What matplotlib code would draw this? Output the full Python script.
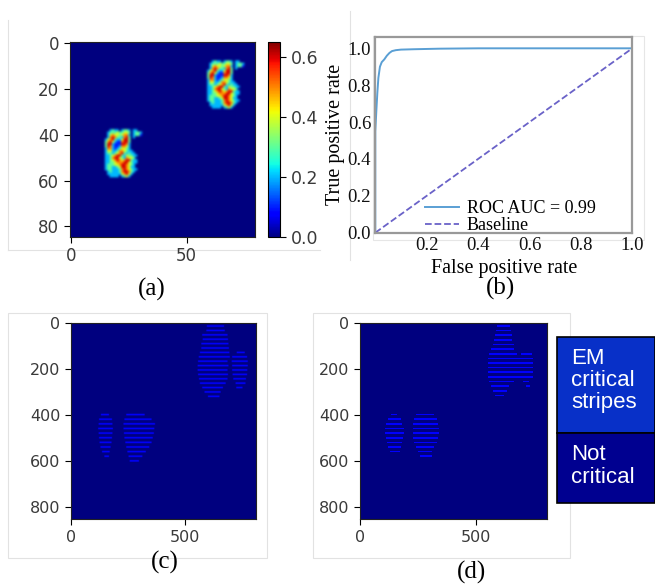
import numpy as np
import matplotlib
matplotlib.use("Agg")
import matplotlib.pyplot as plt
from matplotlib.patches import Rectangle
from matplotlib.lines import Line2D

# ---- datos ----
# (a) mapa de calor 85x80 con dos copias del mismo patron (valores /10)
HEAT_SHAPE = (85, 80)
BLOB_ROWS = [
    "...2322.2332.22..",
    "..2333433443.2332",
    "..2454434552.2331",
    "..2565332563.2...",
    ".24563224663.....",
    ".35642115663.....",
    ".36621116652.....",
    ".36521125542.....",
    ".25521234432.....",
    ".244223554322....",
    ".2332345632322...",
    ".22345663243322..",
    ".2235664325443...",
    ".22345654566322..",
    ".22334555664322..",
    ".2333445665432...",
    ".2332234665422...",
    ".23322235654322..",
    "..232223566532...",
    "..22222245642....",
    "...2222.2342.....",
]
BLOB_ORIGINS = [(58, 8), (14, 38)]  # (col, fila) esquina sup. izq.
HEAT_TICKS_X = [0, 50]
HEAT_TICKS_Y = [0, 20, 40, 60, 80]
CBAR_TICKS = [0.0, 0.2, 0.4, 0.6]

# (b) curva ROC
FPR = [0.0, 0.0, 0.004, 0.008, 0.012, 0.018, 0.025, 0.035, 0.045, 0.055,
       0.065, 0.08, 0.1, 0.15, 0.25, 0.4, 1.0]
TPR = [0.0, 0.55, 0.66, 0.76, 0.84, 0.90, 0.925, 0.94, 0.96, 0.975,
       0.985, 0.99, 0.993, 0.995, 0.998, 1.0, 1.0]
BASE_X = [0.0, 1.0]
BASE_Y = [0.0, 1.0]
ROC_XTICKS = [0.2, 0.4, 0.6, 0.8, 1.0]
ROC_YTICKS = [0.0, 0.2, 0.4, 0.6, 0.8, 1.0]

# (c) y (d) franjas: (fila, [(x0, x1), ...])
STRIPE_SHAPE = (852, 808)
STRIPES_C = [
    (17, [(590, 665)]), (36, [(588, 668)]), (55, [(570, 680)]),
    (74, [(572, 682)]), (93, [(566, 684)]), (112, [(566, 686)]),
    (131, [(560, 688), (720, 755)]), (150, [(555, 690), (700, 765)]),
    (169, [(552, 680), (698, 768)]), (188, [(550, 684), (700, 768)]),
    (207, [(550, 680), (700, 766)]), (226, [(552, 682), (702, 765)]),
    (245, [(556, 680), (705, 760)]), (264, [(560, 672), (715, 758)]),
    (283, [(570, 660), (718, 745)]), (302, [(580, 650)]), (321, [(595, 645)]),
    (400, [(130, 165), (240, 320)]), (420, [(122, 178), (232, 350)]),
    (440, [(120, 180), (228, 365)]), (460, [(118, 182), (228, 362)]),
    (480, [(120, 180), (230, 360)]), (500, [(122, 178), (232, 355)]),
    (520, [(124, 176), (236, 350)]), (540, [(128, 172), (240, 340)]),
    (560, [(135, 168), (245, 325)]), (580, [(145, 165), (250, 310)]),
    (600, [(255, 295)]),
]
STRIPES_D = [
    (17, [(590, 645)]), (37, [(585, 650)]), (57, [(580, 652)]),
    (77, [(575, 655)]), (97, [(570, 660)]), (117, [(565, 662)]),
    (137, [(555, 675), (690, 740)]), (157, [(550, 745)]),
    (177, [(550, 745)]), (197, [(550, 745)]), (217, [(550, 745)]),
    (237, [(550, 745)]), (257, [(555, 660), (700, 725)]),
    (277, [(565, 640), (715, 730)]), (297, [(572, 630)]), (317, [(580, 620)]),
    (400, [(135, 160), (240, 320)]), (420, [(120, 175), (230, 330)]),
    (440, [(112, 182), (228, 335)]), (460, [(108, 187), (227, 338)]),
    (480, [(108, 187), (227, 338)]), (500, [(110, 185), (228, 336)]),
    (520, [(115, 180), (232, 330)]), (540, [(122, 175), (240, 320)]),
    (560, [(130, 170), (250, 310)]), (580, [(258, 308)]),
]
STRIPE_TICKS_X = [0, 500]
STRIPE_TICKS_Y = [0, 200, 400, 600, 800]
LEGEND_LABELS = ["EM\ncritical\nstripes", "Not\ncritical"]
LEGEND_COLORS = ["#0830c8", "#000090"]

# ---- figura ----
W, H = 655, 584
fig = plt.figure(figsize=(W / 100, H / 100), dpi=100)


def box(x0, y0, x1, y1):
    """Coordenadas en pixeles (origen arriba izq.) -> fraccion de figura"""
    return [x0 / W, 1 - y1 / H, (x1 - x0) / W, (y1 - y0) / H]


def fig_rect(x0, y0, x1, y1, **kw):
    r = Rectangle((x0 / W, 1 - y1 / H), (x1 - x0) / W, (y1 - y0) / H,
                  transform=fig.transFigure, **kw)
    fig.add_artist(r)
    return r


def fig_line(xs, ys, **kw):
    fig.add_artist(Line2D([x / W for x in xs], [1 - y / H for y in ys],
                          transform=fig.transFigure, zorder=-1, **kw))


def style_img_axes(ax, xt, yt, size):
    ax.set_xticks(xt)
    ax.set_yticks(yt)
    ax.tick_params(labelsize=size, labelcolor="#3a3a3a", length=4, width=0.8)
    for s in ax.spines.values():
        s.set_linewidth(0.8)
        s.set_color("#222222")


# marcos tenues de las capturas
fig_line([8.3, 8.3], [20, 250], color="#e2e2e2", lw=0.8)
fig_line([8.3, 320], [250, 250], color="#e2e2e2", lw=0.8)
fig_line([349.5, 349.5], [11, 260], color="#e2e2e2", lw=0.8)
fig_rect(373, 35.5, 644, 240, fill=False, ec="#e6e6e6", lw=0.8, zorder=-1)
fig_rect(8.3, 312.7, 266.7, 558.3, fill=False, ec="#e2e2e2", lw=0.8, zorder=-1)
fig_rect(312.7, 312.7, 570, 558.3, fill=False, ec="#e2e2e2", lw=0.8, zorder=-1)

# (a) mapa de calor
heat = np.zeros(HEAT_SHAPE)
blob = np.array([[0.0 if c == "." else int(c) / 10 for c in row.ljust(17, ".")[:17]]
                 for row in BLOB_ROWS])
bh, bw = blob.shape
for cx, cy in BLOB_ORIGINS:
    heat[cy:cy + bh, cx:cx + bw] = blob

ax_a = fig.add_axes(box(69.5, 42.2, 255.1, 236.8))
im = ax_a.imshow(heat, cmap="jet", vmin=0, vmax=0.65,
                 interpolation="bicubic", aspect="auto")
style_img_axes(ax_a, HEAT_TICKS_X, HEAT_TICKS_Y, 12)

cax = fig.add_axes(box(268.3, 41.7, 280, 237.3))
cb = fig.colorbar(im, cax=cax, ticks=CBAR_TICKS)
cb.ax.tick_params(labelsize=12.5, labelcolor="#3a3a3a", length=4, width=0.8)
cb.outline.set_linewidth(0.8)

# (b) curva ROC
serif = ["Liberation Serif", "DejaVu Serif"]
ax_b = fig.add_axes(box(375.3, 36.7, 632.3, 232.7))
ax_b.plot(FPR, TPR, color="#5a9fd4", lw=1.4, label="ROC AUC = 0.99")
ax_b.plot(BASE_X, BASE_Y, "--", color="#6a62c8", lw=1.3, label="Baseline")
ax_b.set_xlim(0, 1)
ax_b.set_ylim(0, 1.063)
ax_b.set_xticks(ROC_XTICKS)
ax_b.set_yticks(ROC_YTICKS)
ax_b.set_xticklabels([f"{v:.1f}" for v in ROC_XTICKS], family=serif)
ax_b.set_yticklabels([f"{v:.1f}" for v in ROC_YTICKS], family=serif)
ax_b.tick_params(length=0, labelsize=13.5, pad=3, labelcolor="#111111")
for s in ax_b.spines.values():
    s.set_color("#999999")
    s.set_linewidth(1.6)
ax_b.set_xlabel("False positive rate", family=serif, fontsize=14.5, labelpad=4)
ax_b.set_ylabel("True positive rate", family=serif, fontsize=14.5, labelpad=2)
ax_b.legend(loc="lower left", bbox_to_anchor=(0.131, -0.09), frameon=False,
            prop={"family": serif, "size": 13}, labelspacing=0.0,
            handlelength=1.85, handletextpad=0.45)

# (c) y (d) franjas
def stripe_image(segments):
    img = np.zeros(STRIPE_SHAPE)
    for y, spans in segments:
        for x0, x1 in spans:
            img[y - 3:y + 4, x0:x1] = 0.12
    return img


ax_c = fig.add_axes(box(70.6, 322.6, 255.6, 519.2))
ax_c.imshow(stripe_image(STRIPES_C), cmap="jet", vmin=0, vmax=1,
            interpolation="bilinear", aspect="auto")
style_img_axes(ax_c, STRIPE_TICKS_X, STRIPE_TICKS_Y, 11.5)

ax_d = fig.add_axes(box(359.9, 322.6, 547.3, 519.2))
ax_d.imshow(stripe_image(STRIPES_D), cmap="jet", vmin=0, vmax=1,
            interpolation="nearest", aspect="auto")
style_img_axes(ax_d, STRIPE_TICKS_X, STRIPE_TICKS_Y, 11.5)

# leyenda de (d)
legend_rows = [(336.7, 433.3), (433.3, 503.3)]
for (y0, y1), lab, col in zip(legend_rows, LEGEND_LABELS, LEGEND_COLORS):
    fig_rect(556.7, y0, 655, y1, fc=col, ec="black", lw=1.2, zorder=5)
    fig.text(571 / W, 1 - (y0 + 11) / H, lab, color="white", va="top", ha="left",
             family=["Liberation Sans", "DejaVu Sans"], fontsize=16,
             linespacing=1.08, zorder=6)

# etiquetas de subfiguras
for lab, x, y in [("(a)", 152, 289), ("(b)", 500, 288),
                  ("(c)", 165, 562), ("(d)", 472, 572)]:
    fig.text(x / W, 1 - y / H, lab, family=serif, fontsize=18,
             ha="center", va="center")

fig.savefig("out.png", dpi=100)
